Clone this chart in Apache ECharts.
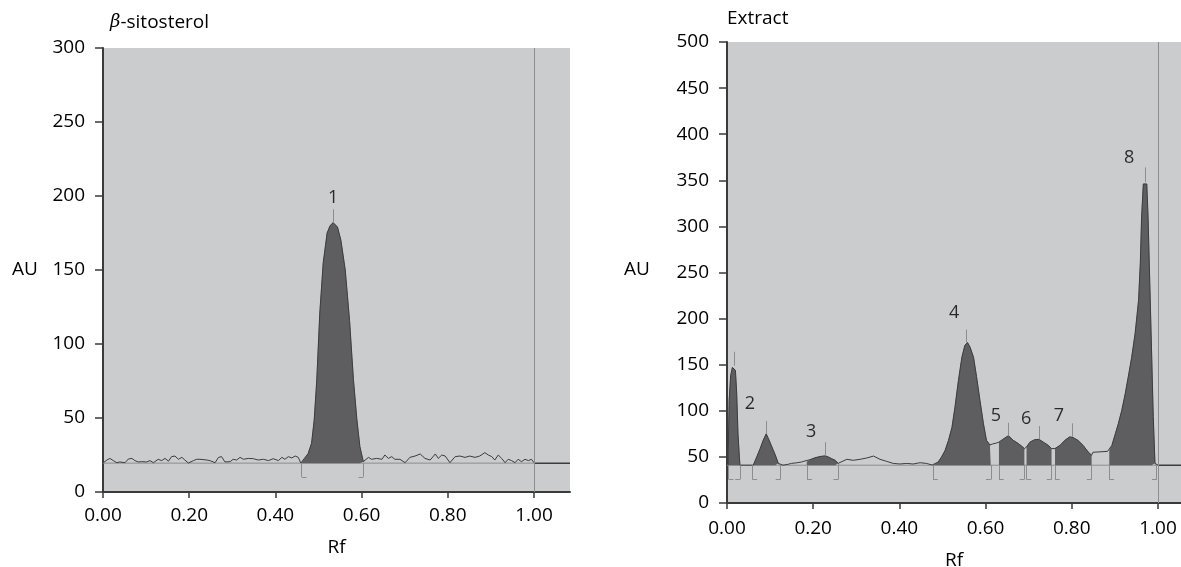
<!DOCTYPE html>
<html><head><meta charset="utf-8">
<script src="https://cdn.jsdelivr.net/npm/echarts@6.0.0/dist/echarts.min.js"></script>
<style>html,body{margin:0;padding:0;background:#fff}#c{width:1181px;height:567px}</style>
</head><body><div id="c"></div>
<script>
// ---------- DATA ----------
const xTicks = [0, 0.2, 0.4, 0.6, 0.8, 1.0];

// Left panel: beta-sitosterol
const baseL = 19.5;
const noiseL1 = [[0.001,19.8],[0.009,21.6],[0.016,22.7],[0.024,21.2],[0.032,19.8],[0.039,20.3],[0.051,19.8],[0.059,22.3],[0.067,22.7],[0.074,21.2],[0.082,20.3],[0.090,20.5],[0.101,20.3],[0.109,21.2],[0.117,19.8],[0.128,22.1],[0.136,21.2],[0.144,22.7],[0.152,20.8],[0.159,23.9],[0.167,24.3],[0.175,22.1],[0.183,23.4],[0.190,21.6],[0.198,19.6],[0.210,21.2],[0.217,22.1],[0.225,22.1],[0.241,21.6],[0.248,21.2],[0.260,19.8],[0.268,23.4],[0.275,23.9],[0.283,20.3],[0.295,20.5],[0.302,22.1],[0.310,21.6],[0.318,23.4],[0.326,22.1],[0.337,22.7],[0.349,22.5],[0.360,21.6],[0.372,22.1],[0.384,21.2],[0.395,22.5],[0.407,21.2],[0.415,23.4],[0.422,22.1],[0.430,23.9],[0.438,23.0],[0.446,24.3],[0.453,23.4],[0.459,19.6]];
const peakL1 = [[0.461,19.8],[0.476,26],[0.484,33],[0.490,48.6],[0.496,75.7],[0.503,121],[0.511,155],[0.520,175],[0.527,180],[0.534,182],[0.544,179],[0.552,170],[0.562,150],[0.572,116],[0.581,76],[0.589,49],[0.596,30.6],[0.604,20.5]];
const noiseL2 = [[0.608,21.2],[0.616,23.4],[0.623,22.1],[0.635,22.7],[0.647,22.1],[0.654,25.0],[0.662,22.7],[0.670,23.9],[0.677,22.1],[0.689,22.1],[0.701,19.8],[0.712,23.4],[0.724,24.3],[0.736,25.7],[0.747,22.7],[0.759,21.6],[0.771,25.7],[0.778,22.7],[0.786,25.0],[0.794,24.3],[0.805,19.8],[0.817,23.9],[0.828,24.3],[0.840,23.4],[0.851,24.3],[0.863,23.4],[0.874,24.3],[0.886,26.6],[0.894,25.0],[0.902,23.9],[0.909,21.6],[0.917,25.0],[0.925,22.7],[0.933,19.8],[0.940,22.1],[0.948,21.2],[0.956,19.8],[0.963,22.1],[0.971,20.5],[0.979,22.1],[0.987,21.2],[0.994,22.1],[1.000,19.8]];
const bracketLeftL = [0.461];
const bracketRightL = [0.604];
const markerL = [[0.534, 182, 191]];           // x, peak, marker top
const labelsL = [[0.534, 199, '1']];

// Right panel: extract
const baseE = 41;
const peakE1 = [[0.003,41],[0.003,57],[0.005,111],[0.0085,138],[0.0125,147],[0.0163,149],[0.0195,144],[0.0225,119],[0.0255,75],[0.0287,50],[0.030,41]];
const gapE1 = [[0.040,41],[0.055,41]];
const peakE2 = [[0.061,41],[0.069,50],[0.077,59],[0.084,68],[0.091,75],[0.096,70],[0.104,61],[0.112,52],[0.119,43],[0.122,41]];
const noiseE1 = [[0.130,41],[0.142,42],[0.150,43],[0.162,43.6],[0.173,44.5],[0.181,45.6]];
const peakE3 = [[0.185,44.5],[0.193,47],[0.204,49],[0.216,50.4],[0.228,51.1],[0.235,49.9],[0.243,48],[0.251,46.3],[0.258,43],[0.260,41]];
const noiseE2 = [[0.262,42.9],[0.278,47.4],[0.293,46.3],[0.309,47.4],[0.324,48.8],[0.340,50.9],[0.355,47.4],[0.370,45.2],[0.386,42.9],[0.401,42.3],[0.417,42.9],[0.432,42.3],[0.448,43.7],[0.463,42.9],[0.476,41.2]];
const peakE4 = [[0.479,41],[0.490,44.5],[0.498,50],[0.506,57],[0.514,68],[0.522,82],[0.529,104],[0.537,133],[0.545,158],[0.552,171],[0.558,174],[0.564,169],[0.572,158],[0.579,137],[0.587,111],[0.595,86],[0.602,68],[0.610,63],[0.612,62.6]];
const valleyE = [[0.616,64],[0.620,63],[0.625,65],[0.629,64.5]];
const peakE5 = [[0.631,66],[0.640,69],[0.653,73],[0.664,68],[0.676,64.4],[0.684,61.5],[0.690,59]];
const peakE6 = [[0.695,60.7],[0.703,66],[0.714,68.7],[0.724,69],[0.734,66],[0.745,62.6],[0.753,59]];
const peakE7 = [[0.761,59],[0.773,62.6],[0.784,68],[0.795,71.7],[0.803,71],[0.814,68],[0.826,62.6],[0.838,55.3],[0.846,51.8]];
const flatE = [[0.849,55],[0.883,56]];
const peakE8 = [[0.887,57],[0.893,62.4],[0.901,75],[0.908,86],[0.916,100.5],[0.924,118.5],[0.931,136.6],[0.939,158],[0.947,184],[0.955,220],[0.959,260],[0.962,310],[0.966,346],[0.970,348],[0.974,346],[0.977,310],[0.981,238],[0.985,166],[0.989,94],[0.993,43],[0.997,41]];
const bracketLeftE = [0.004, 0.059, 0.186, 0.478, 0.631, 0.695, 0.761, 0.887];
const bracketRightE = [0.030, 0.124, 0.258, 0.612, 0.690, 0.753, 0.846, 0.997];
const markerE = [[0.0163,149,164],[0.091,75,89],[0.229,51,66],[0.555,174,188],[0.653,73,87],[0.724,69,83.5],[0.800,72,86.4],[0.970,348,364]];
const labelsE = [[0.053,107,'2'],[0.195,76.6,'3'],[0.527,206.6,'4'],[0.624,95,'5'],[0.694,90.8,'6'],[0.770,94,'7'],[0.933,374,'8']];

// ---------- STYLE ----------
const FONT = 'Open Sans';
const FS = 19;
const BG = '#cbccce';
const FILL = '#5e5e60';
const TRACE = '#3c3c3e';
const GUIDE = '#8d8d8f';
const AXIS = '#3a3a3a';

const chart = echarts.init(document.getElementById('c'), null, {renderer: 'canvas'});

function xAxisCfg(gi, max, gap, margin) {
  return {
    type: 'value', gridIndex: gi, min: 0, max: max,
    name: 'Rf', nameLocation: 'middle', nameGap: gap,
    nameTextStyle: {fontFamily: FONT, fontSize: FS, color: '#000'},
    axisLine: {show: true, onZero: false, lineStyle: {color: AXIS, width: 2}},
    axisTick: {show: true, length: 6, customValues: xTicks, lineStyle: {color: AXIS, width: 1.5}},
    axisLabel: {customValues: xTicks, margin: margin, fontFamily: FONT, fontSize: FS, color: '#000',
      formatter: v => v.toFixed(2)},
    splitLine: {show: false}
  };
}
function yAxisCfg(gi, max) {
  return {
    type: 'value', gridIndex: gi, min: 0, max: max, interval: 50,
    axisLine: {show: true, lineStyle: {color: AXIS, width: 2}},
    axisTick: {show: true, length: 8, lineStyle: {color: AXIS, width: 1.5}},
    axisLabel: {margin: 18, fontFamily: FONT, fontSize: FS, color: '#000'},
    splitLine: {show: false}
  };
}
function lineS(data, i, color, width, z) {
  return {type: 'line', xAxisIndex: i, yAxisIndex: i, data: data, symbol: 'none',
    lineStyle: {color: color, width: width}, z: z, silent: true, animation: false};
}
function fillS(data, i, origin) {
  return {type: 'line', xAxisIndex: i, yAxisIndex: i, data: data, symbol: 'none',
    lineStyle: {color: FILL, width: 0.5}, areaStyle: {color: FILL, opacity: 1, origin: origin},
    z: 3, silent: true, animation: false};
}
function guideLines(lefts, rights, base, bottom, tick, markers, top) {
  const d = [];
  lefts.forEach(x => { d.push([{coord: [x, base]}, {coord: [x, bottom]}]); d.push([{coord: [x, bottom]}, {coord: [x + tick, bottom]}]); });
  rights.forEach(x => { d.push([{coord: [x, base]}, {coord: [x, bottom]}]); d.push([{coord: [x - tick, bottom]}, {coord: [x, bottom]}]); });
  markers.forEach(m => { d.push([{coord: [m[0], m[1]]}, {coord: [m[0], m[2]]}]); });
  d.push([{coord: [1, 0]}, {coord: [1, top]}]);
  return d;
}
function baseSeries(i, base, lefts, rights, bottom, markers, top) {
  const s = lineS([[0, base], [1, base]], i, GUIDE, 1, 1);
  s.markLine = {silent: true, symbol: ['none', 'none'], animation: false, z: 6,
    label: {show: false}, lineStyle: {color: GUIDE, width: 1, type: 'solid'},
    data: guideLines(lefts, rights, base, bottom, 0.011, markers, top)};
  return s;
}
function labelSeries(data, i) {
  return {type: 'scatter', xAxisIndex: i, yAxisIndex: i, data: data, symbolSize: 1,
    itemStyle: {color: 'rgba(0,0,0,0)'}, z: 7, silent: true, animation: false,
    label: {show: true, position: 'inside', formatter: p => p.value[2],
      fontFamily: FONT, fontSize: 18, color: '#000'}};
}

const traceL = [].concat(noiseL1, peakL1, noiseL2);
const traceE = [].concat(peakE1, gapE1, peakE2, noiseE1, peakE3, noiseE2, peakE4, valleyE, peakE5, peakE6, peakE7, flatE, peakE8, [[1.0, baseE]]);

const option = {
  backgroundColor: '#fff',
  animation: false,
  title: [
    {text: '{i|β}-sitosterol', left: 105, top: 8,
      textStyle: {fontFamily: FONT, fontSize: FS, fontWeight: 'normal', color: '#000',
        rich: {i: {fontStyle: 'italic', fontFamily: 'DejaVu Serif', fontSize: 18, color: '#000'}}}},
    {text: 'Extract', left: 722, top: 4,
      textStyle: {fontFamily: FONT, fontSize: FS, fontWeight: 'normal', color: '#000'}}
  ],
  graphic: [
    {type: 'text', x: 25, y: 270, style: {text: 'AU', fontFamily: FONT, fontSize: FS, fill: '#000', align: 'center', verticalAlign: 'middle'}},
    {type: 'text', x: 637, y: 270, style: {text: 'AU', fontFamily: FONT, fontSize: FS, fill: '#000', align: 'center', verticalAlign: 'middle'}}
  ],
  grid: [
    {left: 103, top: 48, width: 467, height: 444, show: true, backgroundColor: BG, borderWidth: 0, containLabel: false, outerBoundsMode: 'none'},
    {left: 727, top: 42, width: 454, height: 461, show: true, backgroundColor: BG, borderWidth: 0, containLabel: false, outerBoundsMode: 'none'}
  ],
  xAxis: [xAxisCfg(0, 1.0835, 46, 14), xAxisCfg(1, 1.0534, 48, 16)],
  yAxis: [yAxisCfg(0, 300), yAxisCfg(1, 500)],
  series: [
    baseSeries(0, baseL, bracketLeftL, bracketRightL, 10.3, markerL, 300),
    lineS([[1, baseL], [1.0835, baseL]], 0, TRACE, 1.5, 4),
    fillS(peakL1, 0, baseL),
    lineS(traceL, 0, TRACE, 1, 4),
    labelSeries(labelsL, 0),

    baseSeries(1, baseE, bracketLeftE, bracketRightE, 25.5, markerE, 500),
    lineS([[1, baseE], [1.0534, baseE]], 1, TRACE, 1.5, 4),
    fillS(peakE1, 1, baseE), fillS(peakE2, 1, baseE), fillS(peakE3, 1, baseE), fillS(peakE4, 1, baseE),
    fillS(peakE5, 1, baseE), fillS(peakE6, 1, baseE), fillS(peakE7, 1, baseE), fillS(peakE8, 1, baseE),
    lineS(traceE, 1, TRACE, 1, 4),
    labelSeries(labelsE, 1)
  ]
};
chart.setOption(option);
</script>
</body></html>
